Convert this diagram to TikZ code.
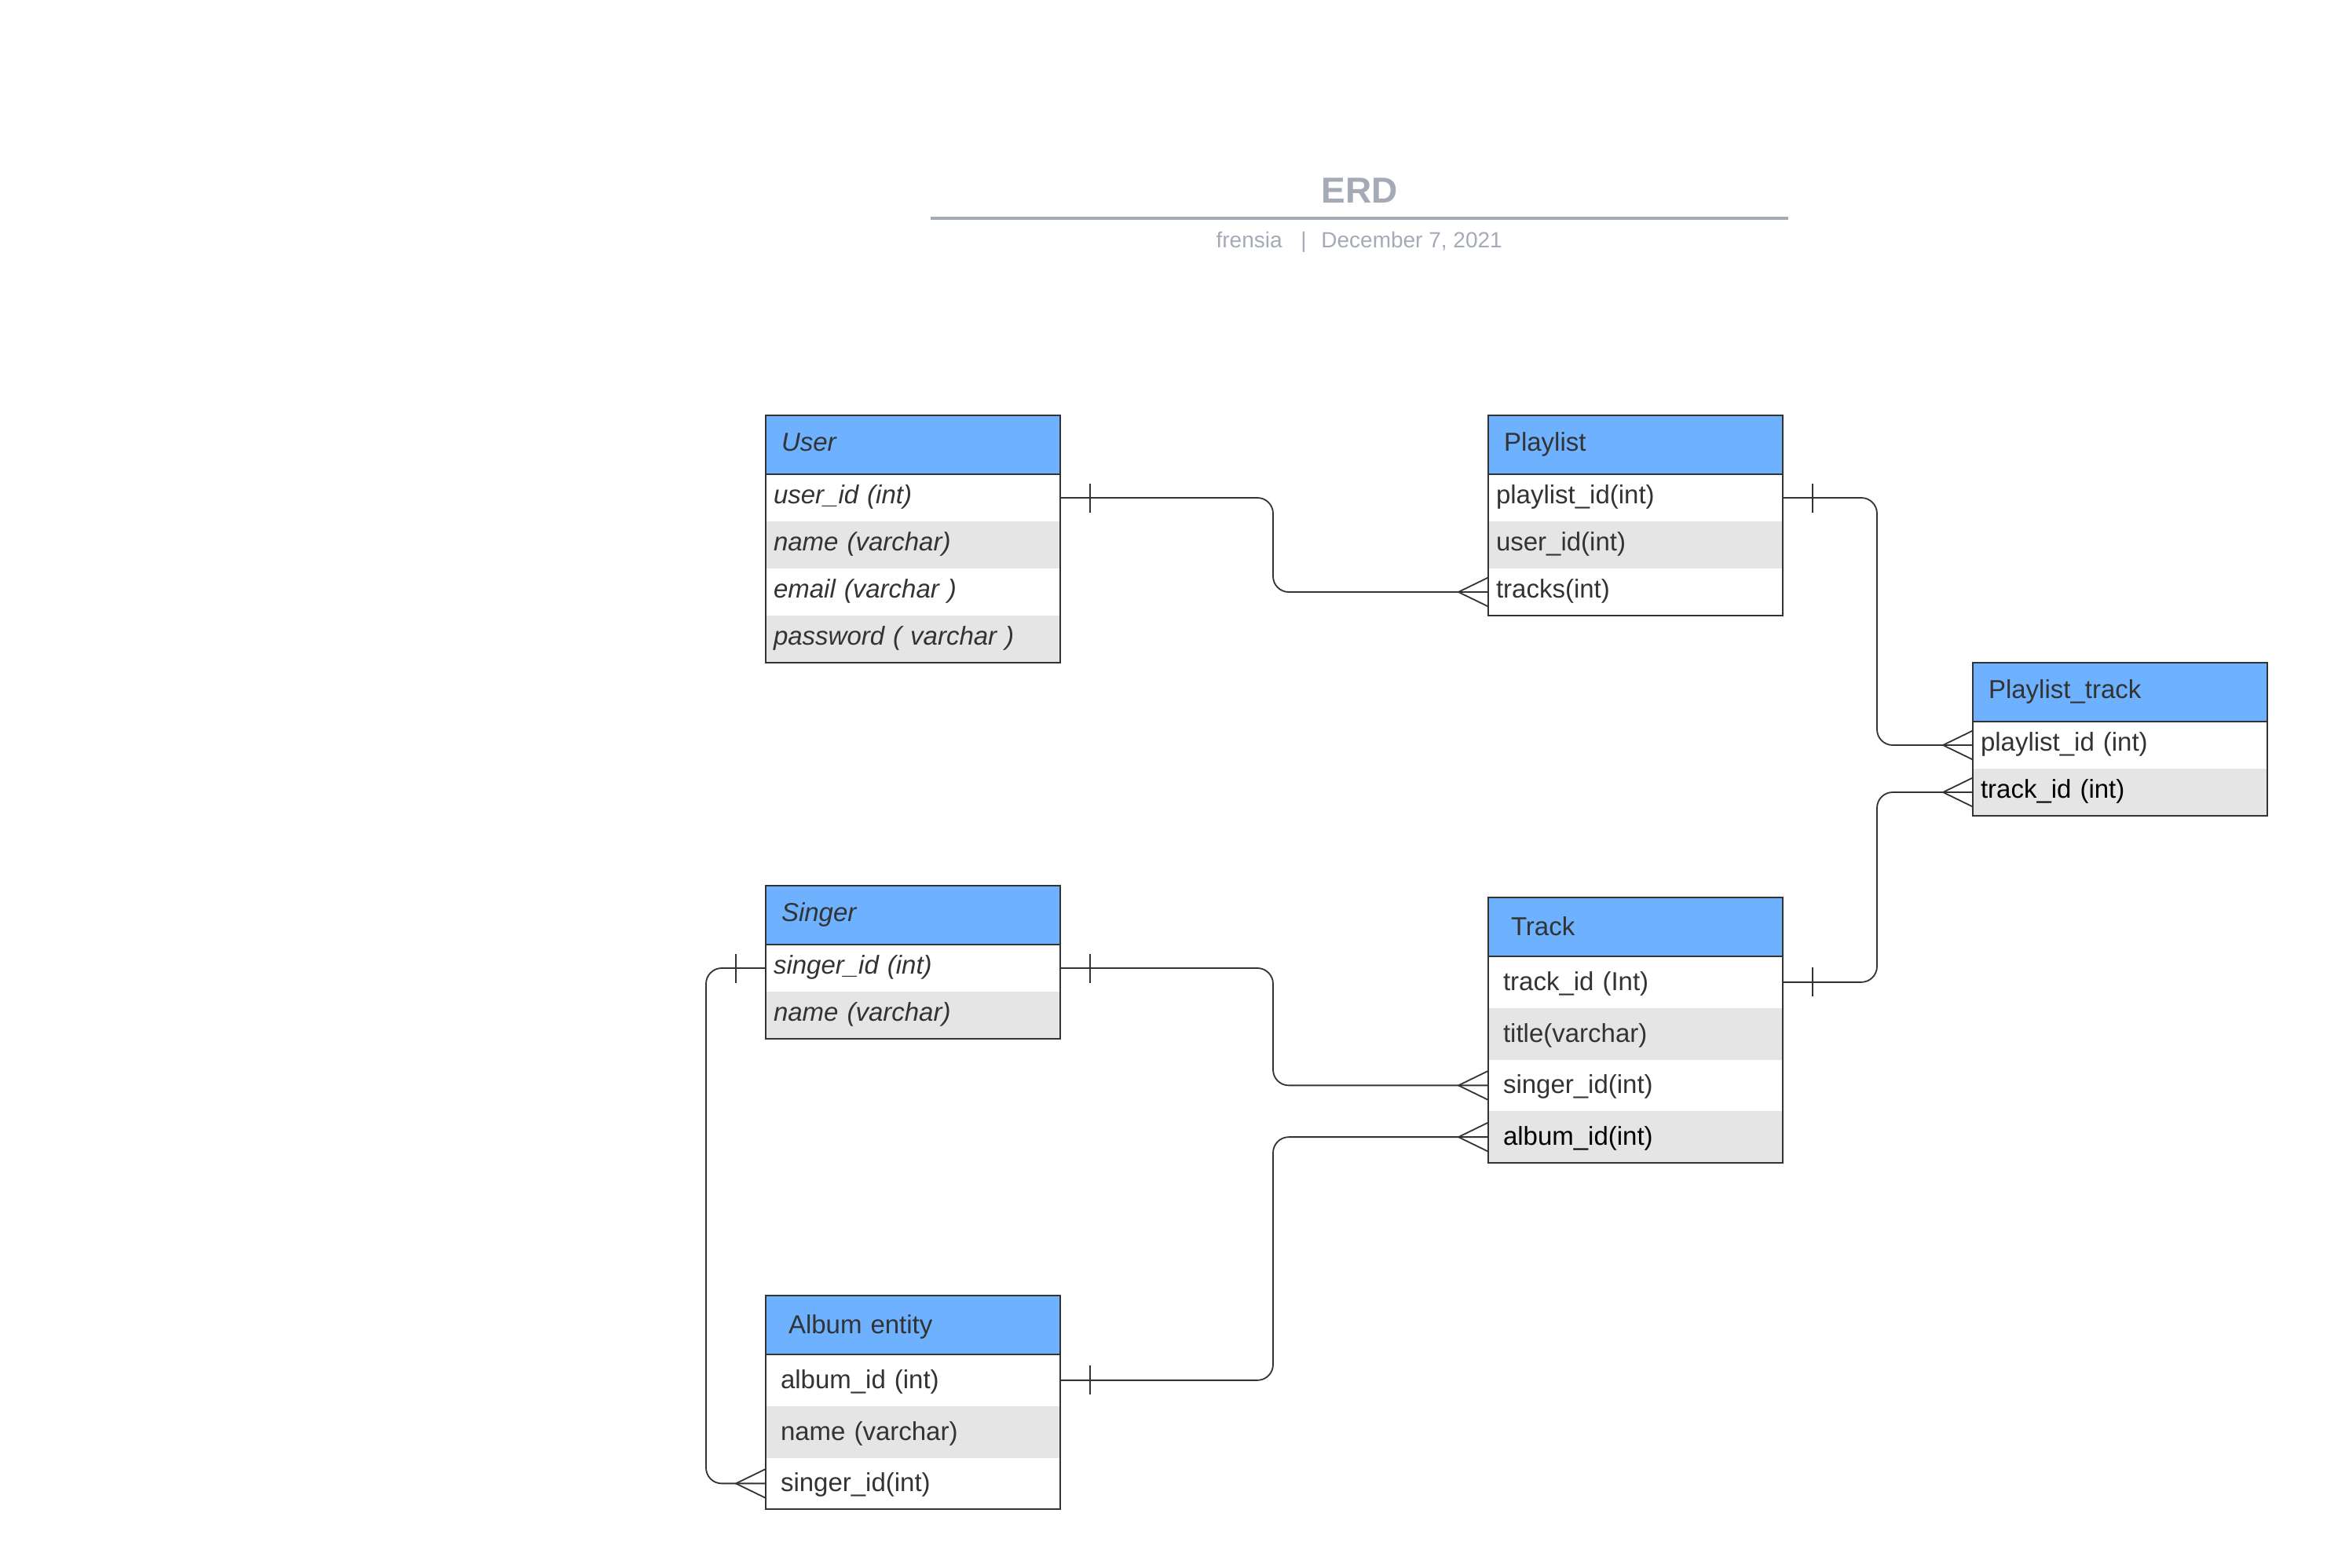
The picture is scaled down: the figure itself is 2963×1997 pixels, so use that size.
\documentclass[tikz,border=0pt]{standalone}
\usepackage{fontspec}
\usepackage{graphicx}
\setmainfont{Liberation Sans}
\usetikzlibrary{calc}
\definecolor{hdr}{HTML}{6DB1FF}
\definecolor{rowg}{HTML}{E5E5E5}
\definecolor{ln}{HTML}{333333}
\definecolor{ttl}{HTML}{A4ABB6}
\newcommand{\crowW}[1]{\draw[conn] ($(#1)+(-38,0)$) -- ($(#1)+(0,-18.5)$) ($(#1)+(-38,0)$) -- ($(#1)+(0,18.5)$);}
\newcommand{\oneE}[1]{\draw[conn] ($(#1)+(38,-18.5)$) -- ($(#1)+(38,18.5)$);}
\newcommand{\oneW}[1]{\draw[conn] ($(#1)+(-38,-18.5)$) -- ($(#1)+(-38,18.5)$);}
\begin{document}
\begin{tikzpicture}[x=0.5pt,y=-0.5pt,
  tbl/.style={font=\fontsize{16.5}{20}\selectfont, text=ln, inner ysep=0pt, outer sep=0pt, align=left, anchor=north west},
  hdrA/.style={tbl, fill=hdr, minimum height=37.5pt, inner xsep=10pt, text width=167.5pt, text height=9.5pt, text depth=2pt},
  hdrB/.style={tbl, fill=hdr, minimum height=37.5pt, inner xsep=14.5pt, text width=158.5pt, text height=13pt, text depth=2pt},
  rowA/.style={tbl, minimum height=30pt, inner xsep=5pt, text width=177.5pt, text height=9.5pt, text depth=2pt},
  rowB/.style={tbl, minimum height=32.875pt, inner xsep=9.5pt, text width=168.5pt, text height=12.5pt, text depth=2pt},
  gray/.style={fill=rowg},
  bord/.style={draw=ln, line width=1.1pt},
  conn/.style={draw=ln, line width=0.9pt},
  route/.style={conn, rounded corners=10pt},
  sub/.style={font=\fontsize{14}{16}\selectfont, text=ttl, inner sep=0pt}
]
\useasboundingbox (0,0) rectangle (2963,1997);

% title block
\node[font=\bfseries\fontsize{23}{26}\selectfont, text=ttl, anchor=base, inner sep=0pt] (title) at (1731,258) {ERD};
\coordinate (tl) at (1185,278);
\coordinate (tr) at (2277,278);
\draw[ttl, line width=2pt] (tl) -- (tr);
\node[sub, anchor=base east] (author) at (1633,315) {frensia};
\node[sub, anchor=base] (sep) at (1660,315) {|};
\node[sub, anchor=base west] (date) at (1682,315) {December 7, 2021};

% User
\node[hdrA] (user-h) at (975,529) {\itshape User};
\node[rowA] (user-1) at (user-h.south west) {\itshape user\_id (int)};
\node[rowA, gray] (user-2) at (user-1.south west) {\itshape name (varchar)};
\node[rowA] (user-3) at (user-2.south west) {\itshape email (varchar )};
\node[rowA, gray] (user-4) at (user-3.south west) {\itshape password ( varchar )};
\draw[bord] (user-h.north west) rectangle (user-4.south east);
\draw[bord] (user-h.south west) -- (user-h.south east);

% Playlist
\node[hdrA] (pl-h) at (1895,529) {Playlist};
\node[rowA] (pl-1) at (pl-h.south west) {playlist\_id(int)};
\node[rowA, gray] (pl-2) at (pl-1.south west) {user\_id(int)};
\node[rowA] (pl-3) at (pl-2.south west) {tracks(int)};
\draw[bord] (pl-h.north west) rectangle (pl-3.south east);
\draw[bord] (pl-h.south west) -- (pl-h.south east);

% Playlist_track
\node[hdrA] (pt-h) at (2512,844) {Playlist\_track};
\node[rowA] (pt-1) at (pt-h.south west) {playlist\_id (int)};
\node[rowA, gray, text=black] (pt-2) at (pt-1.south west) {track\_id (int)};
\draw[bord] (pt-h.north west) rectangle (pt-2.south east);
\draw[bord] (pt-h.south west) -- (pt-h.south east);

% Singer
\node[hdrA] (si-h) at (975,1128) {\itshape Singer};
\node[rowA] (si-1) at (si-h.south west) {\itshape singer\_id (int)};
\node[rowA, gray] (si-2) at (si-1.south west) {\itshape name (varchar)};
\draw[bord] (si-h.north west) rectangle (si-2.south east);
\draw[bord] (si-h.south west) -- (si-h.south east);

% Track
\node[hdrB] (tr-h) at (1895,1143) {Track};
\node[rowB] (tr-1) at (tr-h.south west) {track\_id (Int)};
\node[rowB, gray] (tr-2) at (tr-1.south west) {title(varchar)};
\node[rowB] (tr-3) at (tr-2.south west) {singer\_id(int)};
\node[rowB, gray, text=black] (tr-4) at (tr-3.south west) {album\_id(int)};
\draw[bord] (tr-h.north west) rectangle (tr-4.south east);
\draw[bord] (tr-h.south west) -- (tr-h.south east);

% Album entity
\node[hdrB] (al-h) at (975,1650) {Album entity};
\node[rowB] (al-1) at (al-h.south west) {album\_id (int)};
\node[rowB, gray] (al-2) at (al-1.south west) {name (varchar)};
\node[rowB] (al-3) at (al-2.south west) {singer\_id(int)};
\draw[bord] (al-h.north west) rectangle (al-3.south east);
\draw[bord] (al-h.south west) -- (al-h.south east);

% routing columns
\coordinate (xm) at (1621,0);
\coordinate (xr) at (2390,0);
\coordinate (xl) at (899,0);

% connectors
\draw[route] (user-1.east) -- (xm |- user-1.east) -- (xm |- pl-3.west) -- (pl-3.west);
\oneE{user-1.east} \crowW{pl-3.west}

\draw[route] (pl-1.east) -- (xr |- pl-1.east) -- (xr |- pt-1.west) -- (pt-1.west);
\oneE{pl-1.east} \crowW{pt-1.west}

\draw[route] (tr-1.east) -- (xr |- tr-1.east) -- (xr |- pt-2.west) -- (pt-2.west);
\oneE{tr-1.east} \crowW{pt-2.west}

\draw[route] (si-1.east) -- (xm |- si-1.east) -- (xm |- tr-3.west) -- (tr-3.west);
\oneE{si-1.east} \crowW{tr-3.west}

\draw[route] (al-1.east) -- (xm |- al-1.east) -- (xm |- tr-4.west) -- (tr-4.west);
\oneE{al-1.east} \crowW{tr-4.west}

\draw[route] (si-1.west) -- (xl |- si-1.west) -- (xl |- al-3.west) -- (al-3.west);
\oneW{si-1.west} \crowW{al-3.west}
\end{tikzpicture}
\end{document}
